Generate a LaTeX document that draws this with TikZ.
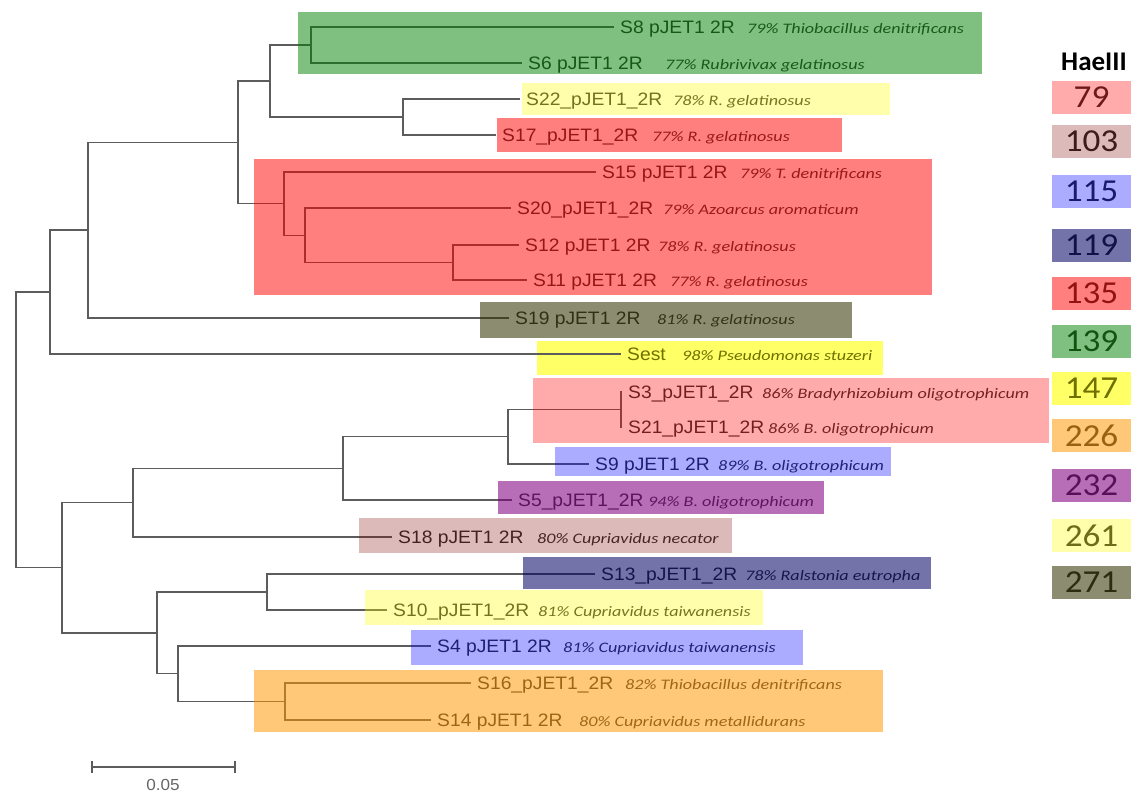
\documentclass[tikz,border=0pt]{standalone}
\usepackage{fontspec}
\setmainfont{Liberation Sans}[FakeStretch=1.07]
\newfontfamily\spfont[FakeStretch=1.25]{Carlito}
\newfontfamily\numfont[FakeStretch=1.1]{Carlito}
\newfontfamily\calfont{Carlito}
\definecolor{cGreen}{RGB}{0,128,0}
\definecolor{cRed}{RGB}{255,0,0}
\definecolor{cBlue}{RGB}{0,0,255}
\definecolor{cNavy}{RGB}{0,0,100}
\definecolor{cYel}{RGB}{255,255,0}
\definecolor{cOr}{RGB}{255,150,0}
\definecolor{cPur}{RGB}{128,0,128}
\definecolor{cBrn}{RGB}{128,0,0}
\definecolor{cOl}{RGB}{50,50,0}
\definecolor{cOlive}{RGB}{112,112,0}
\begin{document}
\begin{tikzpicture}[x=1pt,y=-1pt,
  br/.style={draw=black!64, line width=1.3pt},
  samp/.style={anchor=west, inner xsep=6pt, inner ysep=0pt, text height=12.9pt, text depth=0pt,
    font=\fontsize{18}{21}\selectfont, text=black!82},
  spec/.style={anchor=base west, inner sep=0pt, font=\spfont\itshape\fontsize{14.5}{17}\selectfont, text=black!80},
  legn/.style={inner sep=0pt, font=\numfont\fontsize{32}{34}\selectfont, text=black!85},
  g139/.style={fill=cGreen, fill opacity=.5},
  r135/.style={fill=cRed, fill opacity=.5},
  p79/.style={fill=cRed, fill opacity=.33},
  b115/.style={fill=cBlue, fill opacity=.33},
  v119/.style={fill=cNavy, fill opacity=.55},
  y147/.style={fill=cYel!60},
  y261/.style={fill=cYel, fill opacity=.33},
  or226/.style={fill=cOr, fill opacity=.53},
  u232/.style={fill=cPur, fill opacity=.57},
  n103/.style={fill=cBrn, fill opacity=.27},
  o271/.style={fill=cOl, fill opacity=.56}
]
\path[use as bounding box] (0,0) rectangle (1141,793);

% opaque bright-yellow boxes (text drawn on top of them)
\fill[y147] (537,341) rectangle (883,375);
\fill[y147] (1052,372) rectangle (1131,405);

% ---- leaves ----
\node[samp] (s8)  at (614,27)  {S8 pJET1 2R};
\node[samp] (s6)  at (522,63)  {S6 pJET1 2R};
\node[samp] (s22) at (520,99)  {S22\_pJET1\_2R};
\node[samp] (s17) at (496,135) {S17\_pJET1\_2R};
\node[samp] (s15) at (596,172) {S15 pJET1 2R};
\node[samp] (s20) at (511,208) {S20\_pJET1\_2R};
\node[samp] (s12) at (519,245) {S12 pJET1 2R};
\node[samp] (s11) at (527,280) {S11 pJET1 2R};
\node[samp] (s19) at (509,318) {S19 pJET1 2R};
\node[samp, text=cOlive] (sest) at (621,354) {Sest};
\node[samp] (s3)  at (622,392) {S3\_pJET1\_2R};
\node[samp] (s21) at (622,427) {S21\_pJET1\_2R};
\node[samp] (s9)  at (589,464) {S9 pJET1 2R};
\node[samp] (s5)  at (512,500) {S5\_pJET1\_2R};
\node[samp] (s18) at (392,537) {S18 pJET1 2R};
\node[samp] (s13) at (595,574) {S13\_pJET1\_2R};
\node[samp] (s10) at (387,610) {S10\_pJET1\_2R};
\node[samp] (s4)  at (431,646) {S4 pJET1 2R};
\node[samp] (s16) at (471,683) {S16\_pJET1\_2R};
\node[samp] (s14) at (431,720) {S14 pJET1 2R};

% ---- species ----
\node[spec] (t8)  at (747,33.45)  {79\% Thiobacillus denitrificans};
\node[spec] (t6)  at (665,69.45)  {77\% Rubrivivax gelatinosus};
\node[spec] (t22) at (673,105.45) {78\% R. gelatinosus};
\node[spec] (t17) at (652,141.45) {77\% R. gelatinosus};
\node[spec] (t15) at (740,178.45) {79\% T. denitrificans};
\node[spec] (t20) at (663,214.45) {79\% Azoarcus aromaticum};
\node[spec] (t12) at (658,251.45) {78\% R. gelatinosus};
\node[spec] (t11) at (670,286.45) {77\% R. gelatinosus};
\node[spec] (t19) at (657,324.45) {81\% R. gelatinosus};
\node[spec, text=cOlive] (test) at (682,360.45) {98\% Pseudomonas stuzeri};
\node[spec] (t3)  at (762,398.45) {86\% Bradyrhizobium oligotrophicum};
\node[spec] (t21) at (768,433.45) {86\% B. oligotrophicum};
\node[spec] (t9)  at (718,470.45) {89\% B. oligotrophicum};
\node[spec] (t5)  at (648,506.45) {94\% B. oligotrophicum};
\node[spec] (t18) at (537,543.45) {80\% Cupriavidus necator};
\node[spec] (t13) at (745,580.45) {78\% Ralstonia eutropha};
\node[spec] (t10) at (538,616.45) {81\% Cupriavidus taiwanensis};
\node[spec] (t4)  at (563,652.45) {81\% Cupriavidus taiwanensis};
\node[spec] (t16) at (625,689.45) {82\% Thiobacillus denitrificans};
\node[spec] (t14) at (579,726.45) {80\% Cupriavidus metallidurans};

% ---- internal nodes ----
\coordinate (N86) at (311,45);
\coordinate (N2217) at (403,117);
\coordinate (A) at (270,81);
\coordinate (M) at (453,262.5);
\coordinate (L) at (305,235.25);
\coordinate (K) at (284,203.6);
\coordinate (B) at (238,142.3);
\coordinate (C) at (88,230);
\coordinate (D) at (50,292);
\coordinate (T) at (621,409.5);
\coordinate (Q) at (508,436.75);
\coordinate (P) at (343,468.4);
\coordinate (F) at (133,502.7);
\coordinate (H) at (267,592);
\coordinate (J) at (285,701.5);
\coordinate (I) at (178,673.75);
\coordinate (G) at (157,632.9);
\coordinate (E) at (62,567.8);
\coordinate (R) at (16,430);

% ---- branches ----
\draw[br] (s8.west) -| (N86) |- (s6.west);
\draw[br] (s22.west) -| (N2217) |- (s17.west);
\draw[br] (N86) -| (A) |- (N2217);
\draw[br] (s12.west) -| (M) |- (s11.west);
\draw[br] (s20.west) -| (L) |- (M);
\draw[br] (s15.west) -| (K) |- (L);
\draw[br] (A) -| (B) |- (K);
\draw[br] (B) -| (C) |- (s19.west);
\draw[br] (C) -| (D) |- (sest.west);
\draw[br] (s3.west) -| (T) |- (s21.west);
\draw[br] (T) -| (Q) |- (s9.west);
\draw[br] (Q) -| (P) |- (s5.west);
\draw[br] (P) -| (F) |- (s18.west);
\draw[br] (s13.west) -| (H) |- (s10.west);
\draw[br] (s16.west) -| (J) |- (s14.west);
\draw[br] (s4.west) -| (I) |- (J);
\draw[br] (H) -| (G) |- (I);
\draw[br] (F) -| (E) |- (G);
\draw[br] (D) -| (R) |- (E);

% ---- scale bar ----
\coordinate (sb1) at (92,767);
\coordinate (sb2) at (235,767);
\draw[br, line width=1.2pt] (sb1) -- (sb2);
\draw[br, line width=1.2pt] ([yshift=-6pt]sb1) -- ([yshift=6pt]sb1);
\draw[br, line width=1.2pt] ([yshift=-6pt]sb2) -- ([yshift=6pt]sb2);
\node[font=\fontsize{16}{18}\selectfont, text=black!60, inner sep=0pt] (sbl) at (163,785) {0.05};

% ---- legend ----
\node[font=\calfont\bfseries\fontsize{27}{30}\selectfont, inner sep=0pt] (hae) at (1094,62) {HaeIII};
\node[legn, text=cOlive] (l147) at (1091.5,388.5) {147};
\foreach \n/\y/\st in {79/97.5/p79, 103/141.5/n103, 115/191.5/b115, 119/245/v119,
  135/293.5/r135, 139/341/g139, 226/435.5/or226, 232/485/u232,
  261/535.5/y261, 271/582.5/o271}{
  \node[legn] (l\n) at (1091.5,\y) {\n};
  \fill[\st] (1052,\y-16.5) rectangle (1131,\y+16.5);
}

% ---- highlight boxes (translucent, over tree and text) ----
\fill[g139] (298,12) rectangle (982,74);
\fill[y261] (522,83) rectangle (890,115);
\fill[r135] (497,118) rectangle (842,152);
\fill[r135] (254,159) rectangle (932,295);
\fill[o271] (480,302) rectangle (852,338);
\fill[p79] (533,378) rectangle (1049,443);
\fill[b115] (555,447) rectangle (891,476);
\fill[u232] (498,481) rectangle (824,514);
\fill[n103] (359,518) rectangle (732,553);
\fill[v119] (523,557) rectangle (931,589);
\fill[y261] (365,590) rectangle (763,625);
\fill[b115] (411,630) rectangle (803,665);
\fill[or226] (254,670) rectangle (883,732);
\end{tikzpicture}
\end{document}
